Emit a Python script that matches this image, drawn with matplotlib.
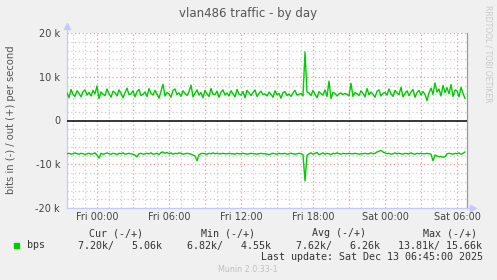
import numpy as np
import pandas as pd
import matplotlib
matplotlib.use("Agg")
import matplotlib.pyplot as plt

# traffic samples, 10 min apart, in kbit/s
out_k = [
    6.3, 5.2, 7.1, 6.0, 5.5, 6.8, 6.2, 5.4, 6.6, 7.0, 5.8, 6.4, 5.6, 6.9, 6.1, 7.9, 5.0, 6.5, 6.0, 5.7,
    7.2, 6.1, 5.3, 6.7, 6.4, 5.6, 7.0, 6.2, 5.2, 6.3, 7.4, 5.9, 6.1, 6.8, 5.4, 6.6, 7.1, 5.7, 6.0, 6.5,
    5.5, 7.3, 6.2, 5.8, 6.9, 6.0, 5.1, 6.7, 8.3, 5.6, 6.4, 6.1, 5.3, 6.9, 7.2, 5.9, 6.3, 5.5, 6.8, 6.2,
    5.7, 6.6, 8.1, 5.4, 6.2, 7.0, 5.8, 6.4, 5.2, 6.9, 6.1, 5.5, 7.3, 6.0, 5.9, 6.7, 5.3, 6.5, 7.0, 5.8,
    6.3, 5.6, 6.8, 6.1, 5.4, 7.1, 6.0, 5.8, 6.6, 5.2, 6.9, 6.3, 5.7, 6.4, 7.0, 5.5, 6.2, 6.7, 5.9, 6.1,
    5.6, 6.5, 6.0, 5.3, 6.8, 5.9, 6.2, 5.1, 6.4, 6.6, 5.7, 6.1, 5.5, 6.3, 6.9, 5.8, 6.0, 6.2, 5.6, 15.66,
    6.5, 6.3, 5.7, 6.9, 6.0, 5.2, 6.6, 6.1, 5.8, 7.0, 5.5, 9.0, 5.0, 6.4, 6.2, 5.6, 6.1, 6.3, 5.9, 6.2,
    6.0, 5.6, 8.5, 5.5, 6.4, 6.1, 5.7, 6.8, 6.2, 5.4, 7.3, 5.9, 6.5, 6.0, 5.3, 6.7, 7.0, 5.6, 6.2, 6.4,
    5.8, 7.2, 6.1, 5.5, 6.9, 6.3, 5.9, 7.6, 5.4, 6.2, 6.8, 5.7, 6.5, 7.1, 5.3, 6.4, 6.9, 5.8, 6.6, 6.0,
    4.55, 6.3, 7.4, 6.0, 8.6, 6.5, 7.2, 5.6, 8.0, 6.4, 7.5, 6.1, 8.2, 5.5, 7.0, 6.8, 5.4, 7.6, 6.2, 5.06,
]
in_k = [
    7.6, 7.5, 7.7, 7.6, 7.4, 7.6, 7.7, 7.5, 7.6, 7.8, 7.6, 7.5, 7.7, 7.6, 7.4, 7.9, 8.6, 7.5, 7.7, 7.6,
    7.4, 7.6, 7.7, 7.5, 7.6, 7.8, 7.5, 7.6, 7.4, 7.7, 7.6, 7.5, 7.6, 7.7, 7.9, 8.3, 7.6, 7.5, 7.7, 7.6,
    7.5, 7.6, 7.4, 7.7, 7.6, 7.5, 7.8, 7.3, 7.2, 7.5, 7.3, 7.6, 7.4, 7.7, 7.5, 7.6, 7.4, 7.5, 7.7, 7.6,
    7.5, 7.6, 7.7, 7.9, 8.1, 9.2, 7.8, 7.6, 7.5, 7.6, 7.7, 7.5, 7.6, 7.4, 7.6, 7.5, 7.6, 7.6, 7.5, 7.6,
    7.6, 7.5, 7.6, 7.6, 7.7, 7.5, 7.6, 7.6, 7.5, 7.6, 7.7, 7.6, 7.5, 7.6, 7.6, 7.7, 7.6, 7.5, 7.6, 7.6,
    7.7, 7.8, 7.6, 7.5, 7.6, 7.7, 7.5, 7.6, 7.6, 7.5, 7.7, 7.6, 7.5, 7.6, 7.7, 7.6, 7.5, 7.6, 7.8, 13.81,
    8.0, 7.6, 7.4, 7.7, 7.5, 7.3, 7.8, 7.6, 7.4, 7.7, 7.5, 7.6, 7.8, 7.5, 7.6, 7.4, 7.6, 7.7, 7.5, 7.6,
    7.6, 7.5, 7.6, 7.6, 7.5, 7.6, 7.7, 7.6, 7.6, 7.5, 7.6, 7.6, 7.4, 7.6, 7.5, 7.2, 7.0, 6.82, 7.2, 7.4,
    7.6, 7.5, 7.7, 7.6, 7.4, 7.6, 7.5, 7.6, 7.7, 7.5, 7.6, 7.6, 7.4, 7.6, 7.7, 7.5, 7.6, 7.5, 7.6, 7.6,
    7.5, 7.6, 7.7, 9.2, 7.9, 8.1, 8.3, 8.2, 8.4, 8.3, 7.6, 7.5, 7.6, 7.7, 7.5, 7.6, 7.4, 7.7, 7.5, 7.20,
]
start = "2025-12-11 21:30"
view_end = "2025-12-13 06:50"
tick_times = ["2025-12-12 00:00", "2025-12-12 06:00", "2025-12-12 12:00",
              "2025-12-12 18:00", "2025-12-13 00:00", "2025-12-13 06:00"]
tick_labels = ["Fri 00:00", "Fri 06:00", "Fri 12:00", "Fri 18:00", "Sat 00:00", "Sat 06:00"]
y_ticks = [-20, -10, 0, 10, 20]
y_tick_labels = ["-20 k", "-10 k", "0", "10 k", "20 k"]
stat_heads = ["Cur (-/+)", "Min (-/+)", "Avg (-/+)", "Max (-/+)"]
stat_vals = ["7.20k/   5.06k", "6.82k/   4.55k", "7.62k/   6.26k", "13.81k/ 15.66k"]

times = pd.date_range(start, periods=len(out_k), freq="10min")
t_start = pd.Timestamp(start)
t_end = pd.Timestamp(view_end)

W, H = 497, 280
fig = plt.figure(figsize=(W / 100, H / 100), dpi=100, facecolor="#F0F0F0")
ax = fig.add_axes([67 / W, 1 - 208 / H, 400 / W, 175 / H])
ax.set_facecolor("white")

green = "#00CC00"
ax.plot(times, np.array(out_k), color=green, lw=1.0, zorder=3)
ax.plot(times, -np.array(in_k), color=green, lw=1.0, zorder=3)
ax.axhline(0, color="black", lw=1.1, zorder=4)

ax.set_xlim(t_start, t_end)
ax.set_ylim(-20, 20)

# grid: minor grey every hour / 2k, major red every 3h / 10k
dots = (0, (1, 2))
for h in pd.date_range(t_start.ceil("h"), t_end, freq="1h"):
    if h.hour % 3 == 0:
        ax.axvline(h, color="#F29A9A", lw=0.9, ls=dots, zorder=1)
    else:
        ax.axvline(h, color="#CFCFCF", lw=0.9, ls=dots, zorder=1)
for v in range(-20, 21, 2):
    if v == 0:
        continue
    if v % 10 == 0:
        ax.axhline(v, color="#F29A9A", lw=0.9, ls=dots, zorder=1)
    else:
        ax.axhline(v, color="#CFCFCF", lw=0.9, ls=dots, zorder=1)

ax.set_xticks([pd.Timestamp(t) for t in tick_times])
ax.set_xticklabels(tick_labels)
ax.set_yticks(y_ticks)
ax.set_yticklabels(y_tick_labels)
ax.tick_params(axis="both", length=0, labelsize=7, colors="#444444", pad=5)
ax.tick_params(axis="x", pad=3)

ax.spines["top"].set_visible(False)
ax.spines["left"].set_color("#C8C8FF")
ax.spines["bottom"].set_color("#C8C8FF")
ax.spines["right"].set_color("#999999")
for s in ["left", "bottom", "right"]:
    ax.spines[s].set_linewidth(0.9)
# axis arrows
ax.plot([0, 0], [1, 1.04], color="#C8C8FF", lw=0.9, transform=ax.transAxes, clip_on=False)
ax.plot([0], [1.04], marker="^", ms=4, color="#C8C8FF", transform=ax.transAxes, clip_on=False)
ax.plot([1, 1.015], [0, 0], color="#C8C8FF", lw=0.9, transform=ax.transAxes, clip_on=False)
ax.plot([1.015], [0], marker=">", ms=4, color="#C8C8FF", transform=ax.transAxes, clip_on=False)

fig.text(248 / W, 1 - 14 / H, "vlan486 traffic - by day", ha="center", va="center",
         fontsize=8.5, color="#555555")
fig.text(11 / W, 1 - 120 / H, "bits in (-) / out (+) per second", rotation=90,
         ha="center", va="center", fontsize=7.2, color="#555555")
fig.text(488 / W, 1 - 5 / H, "RRDTOOL / TOBI OETIKER", rotation=270, ha="center", va="top",
         fontsize=5.5, color="#C8C8C8")

mono = "DejaVu Sans Mono"
head_x = [116, 228, 339, 450]
val_x = [78, 187, 296, 398]
for hx, txt in zip(head_x, stat_heads):
    fig.text(hx / W, 1 - 233 / H, txt, ha="center", va="center", family=mono,
             fontsize=7.2, color="#333333")
for vx, txt in zip(val_x, stat_vals):
    fig.text(vx / W, 1 - 245.5 / H, txt, ha="left", va="center", family=mono,
             fontsize=7.2, color="#333333")
fig.patches.append(plt.Rectangle((14 / W, 1 - 248 / H), 5 / W, 5 / H, color=green,
                                 transform=fig.transFigure, figure=fig))
fig.text(27 / W, 1 - 245.5 / H, "bps", ha="left", va="center", family=mono,
         fontsize=7.2, color="#333333")
fig.text(483 / W, 1 - 257.5 / H, "Last update: Sat Dec 13 06:45:00 2025", ha="right",
         va="center", family=mono, fontsize=7.2, color="#333333")
fig.text(248 / W, 1 - 269 / H, "Munin 2.0.33-1", ha="center", va="center",
         fontsize=5.8, color="#C0C0C0")

fig.savefig("out.png", dpi=100, facecolor=fig.get_facecolor())
